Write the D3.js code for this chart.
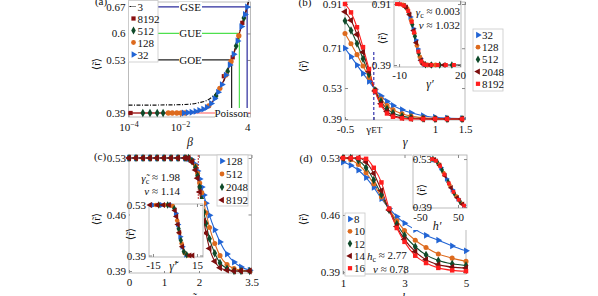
<!DOCTYPE html>
<html>
<head>
<meta charset="utf-8">
<script src="https://cdn.jsdelivr.net/npm/d3@7"></script>
<style>
  body { margin: 0; background: #fff; }
  svg text { font-family: "Liberation Serif", "DejaVu Serif", serif; fill: #111; }
</style>
</head>
<body>
<div id="chart"></div>
<script>
// ---------- panel (a): beta ensemble ----------
const aBetaCurve = [1e-4, 1e-3, 0.005, 0.01, 0.02, 0.04, 0.08, 0.11, 0.16, 0.22, 0.3, 0.42, 0.6, 0.85, 1, 1.2, 1.7, 2, 2.4, 3.3, 4, 4.4];
const aRCurve    = [0.39, 0.39, 0.39, 0.39, 0.391, 0.394, 0.40, 0.405, 0.415, 0.428, 0.445, 0.465, 0.49, 0.517, 0.53, 0.545, 0.58, 0.6, 0.618, 0.65, 0.67, 0.68];
const aBetaDash  = [1e-4, 1e-3, 0.01, 0.03, 0.06, 0.1, 0.18, 0.33, 0.6, 1, 2, 4, 4.7];
const aRDash     = [0.411, 0.411, 0.412, 0.414, 0.418, 0.422, 0.433, 0.452, 0.488, 0.53, 0.6, 0.67, 0.688];
const aBeta8192 = [1.2e-4, 0.5, 1.1, 2.6];
const aR8192    = [0.39, 0.487, 0.537, 0.628];
const aBeta512  = [3.6e-4, 6.8e-4, 1.3e-3, 2.2e-3, 0.25, 0.7, 1.5, 3.0];
const aR512     = [0.39, 0.39, 0.39, 0.39, 0.435, 0.5, 0.567, 0.641];
const aBeta128  = [3.5e-3, 5e-3, 7.5e-3, 0.011, 0.016, 0.13, 0.35, 0.6, 0.95, 1.9];
const aR128     = [0.39, 0.39, 0.39, 0.39, 0.39, 0.409, 0.455, 0.49, 0.526, 0.594];
const aBeta32   = [0.014, 0.02, 0.028, 0.04, 0.056, 0.08, 0.11, 0.16, 0.22, 0.3, 0.42, 0.6, 0.85, 1.2, 1.7, 2.4, 3.3, 4];
const aR32      = [0.39, 0.391, 0.392, 0.394, 0.397, 0.40, 0.405, 0.415, 0.428, 0.445, 0.465, 0.49, 0.517, 0.545, 0.58, 0.618, 0.65, 0.67];
const aRefNames = ["GSE", "GUE", "GOE"];
const aRefBeta  = [4, 2, 1];
const aRefR     = [0.67, 0.6, 0.53];
const aPoissonR = 0.39;

// ---------- panel (b) ----------
const bGamma = [-0.5, -0.4, -0.3, -0.2, -0.1, 0, 0.1, 0.2, 0.3, 0.45, 0.6, 0.8, 1.0, 1.2, 1.45];
const b32   = [0.71, 0.672, 0.634, 0.596, 0.560, 0.524, 0.494, 0.470, 0.451, 0.432, 0.418, 0.405, 0.398, 0.394, 0.392];
const b128  = [0.777, 0.73, 0.681, 0.630, 0.578, 0.522, 0.480, 0.451, 0.432, 0.414, 0.403, 0.396, 0.393, 0.391, 0.39];
const b512  = [0.834, 0.79, 0.731, 0.662, 0.592, 0.519, 0.469, 0.436, 0.417, 0.403, 0.396, 0.392, 0.39, 0.39, 0.39];
const b2048 = [0.875, 0.836, 0.772, 0.692, 0.605, 0.517, 0.459, 0.424, 0.406, 0.396, 0.392, 0.39, 0.39, 0.39, 0.39];
const b8192 = [0.91, 0.872, 0.805, 0.715, 0.616, 0.515, 0.452, 0.415, 0.40, 0.393, 0.39, 0.39, 0.39, 0.39, 0.39];
const bGammaET = -0.02;
const bInsetX = [-12, -10, -8, -6, -5, -4, -3, -2, -1, 0, 1, 2, 4, 8, 14, 20];
const bInsetR = [0.91, 0.909, 0.902, 0.87, 0.83, 0.77, 0.70, 0.62, 0.54, 0.47, 0.42, 0.397, 0.39, 0.39, 0.39, 0.39];
const bIn32X   = [-4.5, -3, -1.8, -0.8, 0.5, 2.5];
const bIn32R   = [0.80, 0.70, 0.604, 0.526, 0.445, 0.395];
const bIn128X  = [-8, -6, -4, -2.5, -1.2, 0.2, 1.5, 4, 8];
const bIn128R  = [0.902, 0.87, 0.77, 0.66, 0.556, 0.46, 0.408, 0.39, 0.39];
const bIn512X  = [-7, -5, -3.5, -2.2, -0.3, 1.2, 3, 6, 10, 16];
const bIn512R  = [0.89, 0.83, 0.735, 0.636, 0.491, 0.415, 0.393, 0.39, 0.39, 0.39];
const bIn2048X = [-6.5, -4.8, -2.8, -1.5, 0.8, 2, 5, 12];
const bIn2048R = [0.88, 0.818, 0.684, 0.58, 0.43, 0.397, 0.39, 0.39];
const bIn8192X = [-11, -9.5, -7.5, -5.5, -3.8, -2.6, -0.5, 1, 2.2, 3.5, 6, 9, 13, 17];
const bIn8192R = [0.91, 0.908, 0.897, 0.85, 0.758, 0.668, 0.505, 0.42, 0.396, 0.391, 0.39, 0.39, 0.39, 0.39];

// ---------- panel (c) ----------
const cGamma = [0, 0.2, 0.4, 0.6, 0.8, 1.0, 1.2, 1.4, 1.6, 1.7, 1.8, 1.9, 1.96, 2.02, 2.08, 2.14, 2.2, 2.3, 2.45, 2.6, 2.8, 3.0, 3.2, 3.45];
const c128  = [0.53, 0.53, 0.53, 0.53, 0.53, 0.53, 0.53, 0.53, 0.53, 0.529, 0.528, 0.522, 0.514, 0.504, 0.494, 0.484, 0.474, 0.459, 0.441, 0.426, 0.411, 0.401, 0.395, 0.391];
const c512  = [0.53, 0.53, 0.53, 0.53, 0.53, 0.53, 0.53, 0.53, 0.53, 0.53, 0.527, 0.52, 0.511, 0.499, 0.487, 0.474, 0.462, 0.444, 0.424, 0.409, 0.398, 0.393, 0.391, 0.39];
const c2048 = [0.53, 0.53, 0.53, 0.53, 0.53, 0.53, 0.53, 0.53, 0.53, 0.53, 0.526, 0.518, 0.508, 0.494, 0.479, 0.463, 0.449, 0.43, 0.412, 0.40, 0.393, 0.39, 0.39, 0.39];
const c8192 = [0.53, 0.53, 0.53, 0.53, 0.53, 0.53, 0.53, 0.53, 0.53, 0.53, 0.525, 0.515, 0.505, 0.488, 0.47, 0.452, 0.437, 0.418, 0.402, 0.394, 0.391, 0.39, 0.39, 0.39];
const cGammaC = 1.98;
const cInsetX = [-17, -10, -5, -2, -1, 0, 1, 2, 3, 4, 5, 6, 7, 9, 13];
const cInsetR = [0.53, 0.53, 0.53, 0.529, 0.525, 0.515, 0.498, 0.476, 0.453, 0.432, 0.414, 0.401, 0.394, 0.39, 0.39];
const cIn128X  = [-15, -9, -3, 0.5, 2, 3.5, 5, 7.5];
const cIn128R  = [0.53, 0.53, 0.53, 0.507, 0.476, 0.442, 0.414, 0.392];
const cIn512X  = [-13, -7, -1.5, 1.5, 3, 4.5, 6.5, 9];
const cIn512R  = [0.53, 0.53, 0.527, 0.487, 0.453, 0.423, 0.397, 0.39];
const cIn2048X = [-11, -5, -0.5, 2.5, 4, 6, 8];
const cIn2048R = [0.53, 0.53, 0.52, 0.464, 0.432, 0.401, 0.392];
const cIn8192X = [-17, -12, -8, -4, 0, 1, 2, 3, 5, 10, 12];
const cIn8192R = [0.53, 0.53, 0.53, 0.53, 0.515, 0.498, 0.476, 0.453, 0.414, 0.39, 0.39];

// ---------- panel (d) ----------
const dH   = [1, 1.25, 1.5, 1.75, 2, 2.25, 2.5, 2.75, 3, 3.35, 3.7, 4.1, 4.55, 5];
const d8   = [0.525, 0.521, 0.515, 0.506, 0.494, 0.48, 0.468, 0.458, 0.45, 0.442, 0.435, 0.429, 0.422, 0.416];
const d10  = [0.53, 0.528, 0.522, 0.512, 0.498, 0.482, 0.467, 0.453, 0.441, 0.429, 0.42, 0.412, 0.407, 0.403];
const d12  = [0.53, 0.53, 0.527, 0.518, 0.503, 0.485, 0.466, 0.449, 0.435, 0.421, 0.411, 0.404, 0.40, 0.398];
const d14  = [0.53, 0.53, 0.53, 0.525, 0.511, 0.49, 0.466, 0.446, 0.43, 0.415, 0.405, 0.399, 0.396, 0.395];
const d16  = [0.53, 0.53, 0.53, 0.529, 0.518, 0.50, 0.468, 0.444, 0.427, 0.41, 0.401, 0.395, 0.392, 0.391];
const dInsetX = [-18, -10, -5, 0, 5, 10, 15, 20, 25, 30, 35, 40, 50, 60, 68];
const dInsetR = [0.53, 0.527, 0.522, 0.515, 0.505, 0.494, 0.483, 0.472, 0.461, 0.45, 0.44, 0.43, 0.414, 0.40, 0.392];
const dIn8X  = [-10, 5, 20, 35, 50, 65];
const dIn8R  = [0.527, 0.505, 0.472, 0.44, 0.414, 0.395];
const dIn10X = [-14, 0, 12, 28, 45, 60];
const dIn10R = [0.529, 0.515, 0.49, 0.454, 0.422, 0.40];
const dIn12X = [-16, -5, 8, 24, 40, 55];
const dIn12R = [0.53, 0.522, 0.498, 0.463, 0.43, 0.407];
const dIn14X = [-12, 2, 16, 32, 48, 62];
const dIn14R = [0.528, 0.511, 0.481, 0.446, 0.417, 0.398];
const dIn16X = [-18, -8, 3, 14, 26, 38, 52, 66];
const dIn16R = [0.53, 0.525, 0.509, 0.485, 0.459, 0.434, 0.411, 0.394];

// ---------- drawing ----------
const SERIF = '"Liberation Serif", "DejaVu Serif", serif';
const COL = { blue: "#2164d4", orange: "#dd6a1d", green: "#0f4a2a", dkred: "#7d0e0e", red: "#ff1e1e" };
const svg = d3.select("#chart").append("svg").attr("width", 598).attr("height", 296);

function markers(g, xs, ys, sx, sy, kind, color, size) {
  const types = { right: d3.symbolTriangle, left: d3.symbolTriangle, circle: d3.symbolCircle,
                  diamond: d3.symbolDiamond, square: d3.symbolSquare };
  const rot = kind === "right" ? 90 : kind === "left" ? -90 : 0;
  g.append("g").selectAll("path")
    .data(xs.map((x, i) => [x, ys[i]]))
    .join("path")
    .attr("d", d3.symbol().type(types[kind]).size(size || 20))
    .attr("fill", color)
    .attr("transform", d => `translate(${sx(d[0])},${sy(d[1])}) rotate(${rot})`);
}

function line(g, xs, ys, sx, sy, color, w, dash) {
  g.append("path")
    .datum(xs.map((x, i) => [x, ys[i]]))
    .attr("fill", "none")
    .attr("stroke", color)
    .attr("stroke-width", w || 1.1)
    .attr("stroke-dasharray", dash || null)
    .attr("d", d3.line().x(d => sx(d[0])).y(d => sy(d[1])).curve(d3.curveMonotoneX));
}

// frame with inward ticks on all four sides (mathematica style)
function frame(g, sx, sy, xt, yt, opt) {
  opt = opt || {};
  const [x0, x1] = sx.range(), [y0, y1] = sy.range();
  g.append("rect").attr("x", x0).attr("y", y1).attr("width", x1 - x0).attr("height", y0 - y1)
    .attr("fill", opt.bg || "none").attr("stroke", "#b4b4b4").attr("stroke-width", 0.9);
  const gx = g.append("g").attr("transform", `translate(0,${y0})`)
    .call(d3.axisBottom(sx).tickValues(xt).tickSizeInner(-3).tickSizeOuter(0).tickPadding(opt.xpad || 4)
      .tickFormat(opt.xfmt || (d => String(d))));
  const gy = g.append("g").attr("transform", `translate(${x0},0)`)
    .call(d3.axisLeft(sy).tickValues(yt).tickSizeInner(-3).tickSizeOuter(0).tickPadding(3)
      .tickFormat(d => String(d)));
  g.append("g").attr("transform", `translate(0,${y1})`)
    .call(d3.axisTop(sx).tickValues(xt).tickSizeInner(-3).tickSizeOuter(0).tickFormat(""));
  g.append("g").attr("transform", `translate(${x1},0)`)
    .call(d3.axisRight(sy).tickValues(yt).tickSizeInner(-3).tickSizeOuter(0).tickFormat(""));
  g.selectAll(".domain").remove();
  g.selectAll(".tick line").attr("stroke", "#888");
  g.selectAll("g").attr("font-family", SERIF);
  g.selectAll(".tick text").attr("font-size", opt.fs || 11).attr("font-family", SERIF).attr("fill", "#111");
  if (opt.yInside) gy.selectAll(".tick text").attr("x", opt.yInside).attr("text-anchor", "end");
  return gx;
}

function label(g, x, y, txt, o) {
  o = o || {};
  const t = g.append("text").attr("x", x).attr("y", y).attr("font-size", o.fs || 11)
    .attr("font-family", SERIF)
    .attr("text-anchor", o.anchor || "middle").text(txt);
  if (o.italic) t.attr("font-style", "italic");
  if (o.color) t.attr("fill", o.color);
  if (o.rot) t.attr("transform", `rotate(${o.rot},${x},${y})`);
  return t;
}

function yLabel(g, x, y) { label(g, x, y + 4, "\u27E8r\u0303\u27E9", { rot: -90, fs: 11 }); }

function legend(g, x, y, w, h, rows, dy, fs) {
  g.append("rect").attr("x", x).attr("y", y).attr("width", w).attr("height", h)
    .attr("fill", "#fff").attr("stroke", "#c8c8c8").attr("stroke-width", 0.8);
  rows.forEach((r, i) => {
    const cy = y + 6 + i * dy;
    if (r.kind === "dashdot") {
      g.append("line").attr("x1", x + 1).attr("x2", x + 7).attr("y1", cy).attr("y2", cy)
        .attr("stroke", "#111").attr("stroke-width", 1.2).attr("stroke-dasharray", "2,1,1,1");
    } else {
      markers(g, [0], [0], () => x + 5, () => cy, r.kind, r.color, 18);
    }
    label(g, x + 9, cy + 4, r.name, { anchor: "start", fs: fs || 11 });
  });
}

// ===== panel (a) =====
{
  const g = svg.append("g");
  const sx = d3.scaleLog().domain([1e-4, 5.4]).range([128.5, 250.5]);
  const sy = d3.scaleLinear().domain([0.3794, 0.683]).range([117, 2]);
  const gx = frame(g, sx, sy, [1e-4, 1e-2, 4], [0.39, 0.53, 0.6, 0.67], { xpad: 6 });
  gx.selectAll(".tick text").each(function (d) {
    const t = d3.select(this);
    if (d < 1) {
      t.text("");
      t.append("tspan").text("10");
      t.append("tspan").attr("dy", "-0.45em").attr("font-size", 8).text("\u2212" + Math.round(-Math.log10(d)));
    }
  });
  // reference ensembles
  const refCol = ["#2b2b9c", "#4ee04e", "#222"];
  aRefNames.forEach((nm, i) => {
    g.append("line").attr("x1", sx.range()[0]).attr("x2", sx(aRefBeta[i]))
      .attr("y1", sy(aRefR[i])).attr("y2", sy(aRefR[i])).attr("stroke", refCol[i]).attr("stroke-width", 1.2);
    g.append("line").attr("x1", sx(aRefBeta[i])).attr("x2", sx(aRefBeta[i]))
      .attr("y1", sy(aRefR[i])).attr("y2", sy.range()[0]).attr("stroke", refCol[i]).attr("stroke-width", 1.2);
  });
  g.append("line").attr("x1", sx.range()[0]).attr("x2", sx.range()[1])
    .attr("y1", sy(aPoissonR)).attr("y2", sy(aPoissonR)).attr("stroke", "#ff5a5a").attr("stroke-width", 1.2);
  line(g, aBetaDash, aRDash, sx, sy, "#111", 1.2, "4,1.5,1,1.5");
  line(g, aBetaCurve, aRCurve, sx, sy, COL.dkred, 1.2);
  markers(g, aBeta8192, aR8192, sx, sy, "square", "#8a1010", 18);
  markers(g, aBeta512, aR512, sx, sy, "diamond", COL.green, 20);
  markers(g, aBeta128, aR128, sx, sy, "circle", COL.orange, 22);
  markers(g, aBeta32, aR32, sx, sy, "right", COL.blue, 20);
  // labels on the lines
  aRefNames.forEach((nm, i) => {
    g.append("rect").attr("x", 179).attr("y", sy(aRefR[i]) - 5).attr("width", 23).attr("height", 10).attr("fill", "#fff");
    label(g, 190.5, sy(aRefR[i]) + 4, nm, { color: refCol[i] === "#222" ? "#111" : refCol[i], fs: 11 });
  });
  g.append("rect").attr("x", 215).attr("y", sy(aPoissonR) - 5).attr("width", 33).attr("height", 10).attr("fill", "#fff");
  label(g, 231.5, sy(aPoissonR) + 4, "Poisson", { color: "#ff3030", fs: 11 });
  legend(g, 128.5, 0.5, 29.5, 61.5, [
    { name: "3", kind: "dashdot" },
    { name: "8192", kind: "square", color: "#8a1010" },
    { name: "512", kind: "diamond", color: COL.green },
    { name: "128", kind: "circle", color: COL.orange },
    { name: "32", kind: "right", color: COL.blue }
  ], 12, 11);
  yLabel(g, 100, 60);
  label(g, 101, 5, "(a)", { fs: 11 });
  label(g, 190, 146, "\u03B2", { italic: true, fs: 12 });
}

// ===== panel (b) =====
{
  const g = svg.append("g");
  const sx = d3.scaleLinear().domain([-0.5, 1.5]).range([345, 465]);
  const sy = d3.scaleLinear().domain([0.3855, 0.919]).range([120, 2]);
  const gx = frame(g, sx, sy, [-0.5, bGammaET, 1, 1.5], [0.39, 0.53, 0.71, 0.91], { xpad: 5 });
  gx.selectAll(".tick").filter(d => d === bGammaET).select("text")
    .text(null).call(t => { t.append("tspan").text("\u03B3"); t.append("tspan").attr("font-size", 9).text("ET"); });
  g.append("line").attr("x1", sx(bGammaET)).attr("x2", sx(bGammaET)).attr("y1", sy(0.3855)).attr("y2", sy(0.70))
    .attr("stroke", "#2323a8").attr("stroke-width", 1.1).attr("stroke-dasharray", "3,2");
  const ser = [[b32, COL.blue, "right"], [b128, COL.orange, "circle"], [b512, COL.green, "diamond"],
               [b2048, COL.dkred, "left"], [b8192, COL.red, "square"]];
  ser.forEach(s => line(g, bGamma, s[0], sx, sy, s[1], 1.1));
  ser.forEach(s => markers(g, bGamma, s[0], sx, sy, s[2], s[1], 20));
  yLabel(g, 307, 62);
  label(g, 305, 6, "(b)", { fs: 11 });
  label(g, 405, 146, "\u03B3", { italic: true, fs: 12 });

  // inset
  const ix = d3.scaleLinear().domain([-12.5, 20.5]).range([394, 461]);
  const iy = d3.scaleLinear().domain([0.373, 0.936]).range([67, 1]);
  const gi = g.append("g");
  frame(gi, ix, iy, [-10, 20], [0.39, 0.91], { bg: "#fff", xpad: 4 });
  line(gi, bInsetX, bInsetR, ix, iy, "#111", 1.1);
  markers(gi, bIn32X, bIn32R, ix, iy, "right", COL.blue, 16);
  markers(gi, bIn128X, bIn128R, ix, iy, "circle", COL.orange, 18);
  markers(gi, bIn512X, bIn512R, ix, iy, "diamond", COL.green, 16);
  markers(gi, bIn2048X, bIn2048R, ix, iy, "left", COL.dkred, 16);
  markers(gi, bIn8192X, bIn8192R, ix, iy, "square", COL.red, 16);
  yLabel(gi, 386, 34);
  label(gi, 430, 88, "\u03B3\u2032", { italic: true, fs: 12 });
  label(gi, 460, 16, "", { anchor: "end", fs: 11 }).call(t => {
    t.append("tspan").attr("font-style", "italic").text("\u03B3");
    t.append("tspan").attr("font-size", 8).attr("dy", "0.25em").text("c");
    t.append("tspan").attr("dy", "-0.25em").text(" \u2248 0.003");
  });
  label(gi, 460, 29, "", { anchor: "end", fs: 11 }).call(t => {
    t.append("tspan").attr("font-style", "italic").text("\u03BD");
    t.append("tspan").text(" \u2248 1.032");
  });
  legend(g, 473, 29, 30, 62, [
    { name: "32", kind: "right", color: COL.blue },
    { name: "128", kind: "circle", color: COL.orange },
    { name: "512", kind: "diamond", color: COL.green },
    { name: "2048", kind: "left", color: COL.dkred },
    { name: "8192", kind: "square", color: COL.red }
  ], 12.2, 11);
}

// ===== panel (c) =====
{
  const g = svg.append("g");
  const sx = d3.scaleLinear().domain([0, 3.5]).range([129, 251.5]);
  const sy = d3.scaleLinear().domain([0.3875, 0.5337]).range([273, 155]);
  frame(g, sx, sy, [0, 1, 2, 3.5], [0.39, 0.46, 0.53], { xpad: 5 });
  g.append("line").attr("x1", sx(cGammaC)).attr("x2", sx(cGammaC)).attr("y1", sy(0.5337)).attr("y2", sy(0.472))
    .attr("stroke", "#c84848").attr("stroke-width", 1.1).attr("stroke-dasharray", "2,1");
  const ser = [[c128, COL.blue, "right"], [c512, COL.orange, "circle"], [c2048, COL.green, "diamond"], [c8192, COL.dkred, "left"]];
  ser.forEach(s => line(g, cGamma, s[0], sx, sy, s[1], 1.1));
  ser.forEach(s => markers(g, cGamma, s[0], sx, sy, s[2], s[1], 20));
  yLabel(g, 100, 215);
  label(g, 100, 160, "(c)", { fs: 11 });
  label(g, 190, 302, "\u03B3\u0303", { italic: true, fs: 12 });
  label(g, 180, 182, "", { anchor: "end" }).call(t => {
    t.append("tspan").attr("font-style", "italic").text("\u03B3\u0303");
    t.append("tspan").attr("font-size", 8).attr("dy", "0.25em").text("c");
    t.append("tspan").attr("dy", "-0.25em").text(" \u2248 1.98");
  });
  label(g, 180, 195, "", { anchor: "end" }).call(t => {
    t.append("tspan").attr("font-style", "italic").text("\u03BD");
    t.append("tspan").text(" \u2248 1.14");
  });
  legend(g, 217, 155, 31, 51, [
    { name: "128", kind: "right", color: COL.blue },
    { name: "512", kind: "circle", color: COL.orange },
    { name: "2048", kind: "diamond", color: COL.green },
    { name: "8192", kind: "left", color: COL.dkred }
  ], 13, 11);

  // inset
  const ix = d3.scaleLinear().domain([-17.7, 19.1]).range([149, 203]);
  const iy = d3.scaleLinear().domain([0.3858, 0.5328]).range([257, 204]);
  g.append("rect").attr("x", 130).attr("y", 199).attr("width", 74).attr("height", 72).attr("fill", "#fff");
  const gi = g.append("g");
  frame(gi, ix, iy, [-15, 15], [0.39, 0.53], { bg: "#fff", xpad: 4 });
  line(gi, cInsetX, cInsetR, ix, iy, "#111", 1.1);
  markers(gi, cIn128X, cIn128R, ix, iy, "right", COL.blue, 16);
  markers(gi, cIn512X, cIn512R, ix, iy, "circle", COL.orange, 16);
  markers(gi, cIn2048X, cIn2048R, ix, iy, "diamond", COL.green, 16);
  markers(gi, cIn8192X, cIn8192R, ix, iy, "left", COL.dkred, 16);
  yLabel(gi, 134, 230);
  label(gi, 173, 270, "\u03B3\u0303\u2032", { italic: true, fs: 12 });
}

// ===== panel (d) =====
{
  const g = svg.append("g");
  const sx = d3.scaleLinear().domain([1, 5]).range([343, 466]);
  const sy = d3.scaleLinear().domain([0.3875, 0.5337]).range([274, 155]);
  frame(g, sx, sy, [1, 3, 5], [0.39, 0.46, 0.53], { xpad: 5 });
  const ser = [[d8, COL.blue, "right"], [d10, COL.orange, "circle"], [d12, COL.green, "diamond"],
               [d14, COL.dkred, "left"], [d16, COL.red, "square"]];
  ser.forEach(s => line(g, dH, s[0], sx, sy, s[1], 1.1));
  ser.forEach(s => markers(g, dH, s[0], sx, sy, s[2], s[1], 20));
  yLabel(g, 307, 215);
  label(g, 306, 162, "(d)", { fs: 11 });
  label(g, 405, 302, "h", { italic: true, fs: 12 });
  legend(g, 345, 213, 20, 63, [
    { name: "8", kind: "right", color: COL.blue },
    { name: "10", kind: "circle", color: COL.orange },
    { name: "12", kind: "diamond", color: COL.green },
    { name: "14", kind: "left", color: COL.dkred },
    { name: "16", kind: "square", color: COL.red }
  ], 12.3, 11);
  label(g, 367, 260, "", { anchor: "start" }).call(t => {
    t.append("tspan").attr("font-style", "italic").text("h");
    t.append("tspan").attr("font-size", 8).attr("dy", "0.25em").text("c");
    t.append("tspan").attr("dy", "-0.25em").text(" \u2248 2.77");
  });
  label(g, 373, 273, "", { anchor: "start" }).call(t => {
    t.append("tspan").attr("font-style", "italic").text("\u03BD");
    t.append("tspan").text(" \u2248 0.78");
  });

  // inset
  const ix = d3.scaleLinear().domain([-68.4, 73.7]).range([413, 467]);
  const iy = d3.scaleLinear().domain([0.387, 0.5419]).range([208, 155]);
  g.append("rect").attr("x", 412).attr("y", 154).attr("width", 56).attr("height", 76).attr("fill", "#fff");
  const gi = g.append("g");
  frame(gi, ix, iy, [-50, 50], [0.39, 0.53], { bg: "#fff", xpad: 5, yInside: 19 });
  line(gi, dInsetX, dInsetR, ix, iy, "#111", 1.1);
  markers(gi, dIn8X, dIn8R, ix, iy, "right", COL.blue, 14);
  markers(gi, dIn10X, dIn10R, ix, iy, "circle", COL.orange, 14);
  markers(gi, dIn12X, dIn12R, ix, iy, "diamond", COL.green, 14);
  markers(gi, dIn14X, dIn14R, ix, iy, "left", COL.dkred, 14);
  markers(gi, dIn16X, dIn16R, ix, iy, "square", COL.red, 14);
  yLabel(gi, 425, 186);
  label(gi, 437, 230, "h\u2032", { italic: true, fs: 12 });
}
</script>
</body>
</html>
